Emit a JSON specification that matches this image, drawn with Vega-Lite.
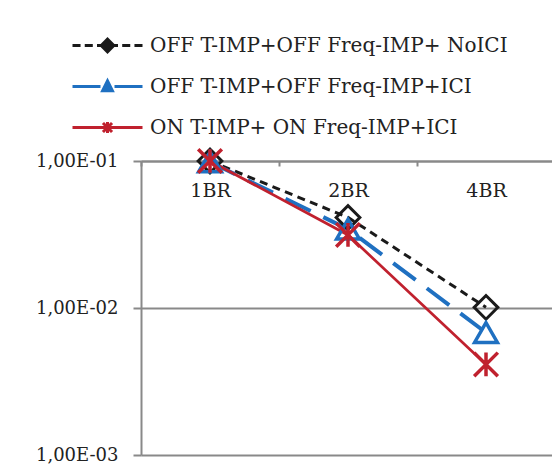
{
  "$schema": "https://vega.github.io/schema/vega-lite/v6.json",
  "autosize": "none",
  "width": 414,
  "height": 294,
  "padding": {"left": 141, "top": 161, "right": 0, "bottom": 18},
  "background": "white",
  "config": {"font": "DejaVu Serif", "view": {"stroke": null}},
  "data": {
    "values": [
      {"series": "OFF T-IMP+OFF Freq-IMP+ NoICI", "cat": "1BR", "v": 0.1},
      {"series": "OFF T-IMP+OFF Freq-IMP+ NoICI", "cat": "2BR", "v": 0.0413},
      {"series": "OFF T-IMP+OFF Freq-IMP+ NoICI", "cat": "4BR", "v": 0.0101},
      {"series": "OFF T-IMP+OFF Freq-IMP+ICI", "cat": "1BR", "v": 0.0985},
      {"series": "OFF T-IMP+OFF Freq-IMP+ICI", "cat": "2BR", "v": 0.0344},
      {"series": "OFF T-IMP+OFF Freq-IMP+ICI", "cat": "4BR", "v": 0.0068},
      {"series": "ON T-IMP+ ON Freq-IMP+ICI", "cat": "1BR", "v": 0.1},
      {"series": "ON T-IMP+ ON Freq-IMP+ICI", "cat": "2BR", "v": 0.0314},
      {"series": "ON T-IMP+ ON Freq-IMP+ICI", "cat": "4BR", "v": 0.00413}
    ]
  },
  "encoding": {
    "x": {
      "field": "cat", "type": "nominal", "title": null,
      "scale": {"type": "band", "domain": ["1BR", "2BR", "4BR"], "paddingInner": 0, "paddingOuter": 0},
      "axis": {
        "orient": "bottom", "offset": -294, "labelAngle": 0,
        "domainColor": "#898989", "domainWidth": 2,
        "tickColor": "#898989", "tickWidth": 2, "tickSize": 5, "tickBand": "extent",
        "labelFont": "DejaVu Serif", "labelFontSize": 19, "labelColor": "#222222", "labelPadding": 15,
        "grid": false
      }
    },
    "y": {
      "field": "v", "type": "quantitative", "title": null,
      "scale": {"type": "log", "domain": [0.001, 0.1], "nice": false},
      "axis": {
        "values": [0.001, 0.01, 0.1],
        "labelExpr": "datum.value >= 0.05 ? '1,00E-01' : (datum.value >= 0.005 ? '1,00E-02' : '1,00E-03')",
        "domainColor": "#898989", "domainWidth": 2,
        "tickColor": "#898989", "tickWidth": 2, "tickSize": 8,
        "grid": true, "gridColor": "#898989", "gridWidth": 2,
        "labelFont": "DejaVu Serif", "labelFontSize": 18, "labelColor": "#222222", "labelPadding": 15
      }
    },
    "color": {
      "field": "series", "type": "nominal",
      "scale": {"domain": ["OFF T-IMP+OFF Freq-IMP+ NoICI", "OFF T-IMP+OFF Freq-IMP+ICI", "ON T-IMP+ ON Freq-IMP+ICI"], "range": ["#1a1a1a", "#1f70c1", "#c0212e"]},
      "legend": {
        "title": null, "orient": "none", "legendX": -70, "legendY": -136,
        "padding": 0, "rowPadding": 0, "clipHeight": 41,
        "symbolSize": 4900, "symbolStrokeWidth": 3,
        "labelFont": "DejaVu Serif", "labelFontSize": 20, "labelColor": "#222222", "labelOffset": 6, "labelLimit": 500,
        "encode": {
          "symbols": {
            "update": {
              "shape": {"signal": "datum.value === 'OFF T-IMP+OFF Freq-IMP+ NoICI' ? 'M-1,0L-0.77,0M-0.65,0L-0.42,0M-0.3,0L0.3,0M0.42,0L0.65,0M0.77,0L1,0M-0.18,0L0,-0.18L0.18,0L0,0.18Z' : (datum.value === 'OFF T-IMP+OFF Freq-IMP+ICI' ? 'M-1,0L-0.2,0M0.2,0L1,0M-0.14,0.12L0.14,0.12L0,-0.16Z' : 'M-1,0L1,0M-0.13,-0.13L0.13,0.13M-0.13,0.13L0.13,-0.13M0,-0.16L0,0.16')"},
              "fill": {"scale": "color", "field": "value"},
              "stroke": {"scale": "color", "field": "value"},
              "strokeWidth": {"value": 3},
              "opacity": {"value": 1}
            }
          }
        }
      }
    }
  },
  "layer": [
    {
      "transform": [{"filter": "datum.series === 'OFF T-IMP+OFF Freq-IMP+ NoICI'"}],
      "mark": {"type": "line", "clip": false, "strokeDash": [8, 5.5], "strokeWidth": 3}
    },
    {
      "transform": [{"filter": "datum.series === 'OFF T-IMP+OFF Freq-IMP+ICI'"}],
      "mark": {"type": "line", "clip": false, "strokeDash": [28, 14], "strokeWidth": 4}
    },
    {
      "transform": [{"filter": "datum.series === 'ON T-IMP+ ON Freq-IMP+ICI'"}],
      "mark": {"type": "line", "clip": false, "strokeWidth": 2.7}
    },
    {
      "transform": [{"filter": "datum.series === 'OFF T-IMP+OFF Freq-IMP+ NoICI'"}],
      "mark": {"type": "point", "shape": "diamond", "filled": false, "strokeWidth": 3, "size": 560, "opacity": 1, "clip": false}
    },
    {
      "transform": [{"filter": "datum.series === 'OFF T-IMP+OFF Freq-IMP+ICI'"}],
      "mark": {"type": "point", "shape": "triangle-up", "filled": false, "strokeWidth": 3.5, "size": 520, "opacity": 1, "clip": false}
    },
    {
      "transform": [{"filter": "datum.series === 'ON T-IMP+ ON Freq-IMP+ICI'"}],
      "mark": {"type": "point", "shape": "M-1,-1L1,1M-1,1L1,-1M0,-1L0,1", "filled": false, "strokeWidth": 3.5, "size": 560, "opacity": 1, "clip": false}
    }
  ]
}
